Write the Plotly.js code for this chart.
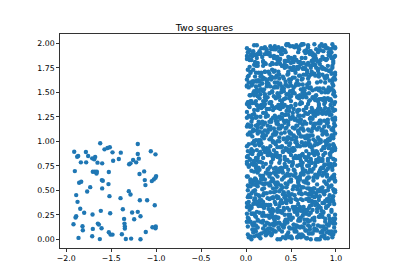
<!DOCTYPE html>
<html>
<head>
<meta charset="utf-8">
<script src="https://cdn.plot.ly/plotly-3.0.1.min.js"></script>
<style>html,body{margin:0;padding:0;background:#fff;}#chart{width:400px;height:280px;}</style>
</head>
<body>
<div id="chart"></div>
<script>
// Left square points (x in [-2,-1], y in [0,0.9])
const xLeft = [-1.911,-1.904,-1.889,-1.896,-1.889,-1.919,-1.874,-1.878,-1.867,-1.856,-1.833,-1.844,-1.837,-1.863,-1.819,-1.815,-1.800,-1.781,-1.778,-1.756,-1.733,-1.767,-1.711,-1.689,-1.678,-1.704,-1.681,-1.659,-1.704,-1.711,-1.707,-1.663,-1.652,-1.648,-1.637,-1.626,-1.622,-1.615,-1.607,-1.604,-1.593,-1.600,-1.600,-1.574,-1.541,-1.515,-1.485,-1.530,-1.526,-1.519,-1.478,-1.511,-1.526,-1.507,-1.485,-1.415,-1.393,-1.396,-1.381,-1.370,-1.352,-1.348,-1.348,-1.337,-1.356,-1.304,-1.285,-1.300,-1.285,-1.278,-1.267,-1.256,-1.244,-1.222,-1.204,-1.204,-1.204,-1.193,-1.185,-1.181,-1.174,-1.174,-1.133,-1.126,-1.119,-1.115,-1.100,-1.059,-1.048,-1.026,-1.007,-1.000,-1.007,-1.004,-1.007,-1.041,-1.015];
const yLeft = [0.894,0.696,0.451,0.222,0.235,0.154,0.382,0.843,0.850,0.577,0.587,0.311,0.785,0.014,0.133,0.092,0.270,0.891,0.785,0.850,0.532,0.488,0.826,0.816,0.840,0.689,0.689,0.689,0.106,0.031,0.253,0.672,0.782,0.160,0.150,0.002,0.980,0.290,0.113,0.604,0.597,0.519,0.775,0.918,0.932,0.939,0.887,0.563,0.686,0.440,0.802,0.266,0.072,0.048,0.048,0.819,0.884,0.420,0.051,0.307,0.160,0.130,0.109,0.003,0.208,0.491,0.457,0.765,0.775,0.007,0.273,0.809,0.205,0.785,0.973,0.870,0.280,0.823,0.666,0.399,0.235,0.001,0.693,0.604,0.553,0.075,0.399,0.898,0.594,0.611,0.628,0.645,0.867,0.130,0.113,0.123,0.348];

// Right square points, part A (x in [0,1], y in [0,2])
const xRightA = [
0.03,0.47,0.82,0.15,0.66,0.91,0.28,0.54,0.09,0.73,0.38,0.97,0.61,0.22,0.85,0.44,0.12,0.70,0.33,0.58,0.95,0.06,0.79,0.41,0.26,0.63,0.88,0.17,0.50,0.99,0.35,0.76,0.02,0.57,0.20,0.68,0.93,0.45,0.11,0.84,0.31,0.72,0.59,0.08,0.96,0.24,0.67,0.40,0.87,0.14,
0.56,0.13,0.89,0.34,0.71,0.05,0.62,0.27,0.94,0.48,0.19,0.80,0.37,0.65,0.01,0.52,0.86,0.23,0.75,0.42,0.10,0.98,0.30,0.69,0.55,0.16,0.83,0.46,0.07,0.78,0.36,0.60,0.92,0.25,0.49,0.04,0.71,0.18,0.87,0.53,0.32,0.64,0.97,0.21,0.43,0.76,0.09,0.58,0.90,0.29,
0.81,0.27,0.44,0.06,0.93,0.61,0.18,0.72,0.35,0.99,0.50,0.12,0.67,0.29,0.84,0.03,0.57,0.40,0.76,0.21,0.95,0.46,0.09,0.63,0.33,0.88,0.15,0.70,0.52,0.24,0.97,0.38,0.01,0.79,0.59,0.11,0.86,0.43,0.26,0.68,0.92,0.31,0.54,0.07,0.74,0.48,0.19,0.83,0.36,0.65,
0.12,0.58,0.91,0.37,0.04,0.75,0.46,0.23,0.87,0.64,0.30,0.97,0.08,0.53,0.71,0.19,0.42,0.85,0.27,0.66,0.01,0.94,0.35,0.79,0.50,0.14,0.61,0.89,0.40,0.22,0.73,0.06,0.56,0.98,0.32,0.68,0.17,0.83,0.45,0.10,0.77,0.29,0.60,0.93,0.48,0.03,0.81,0.38,0.70,0.25,
0.67,0.20,0.43,0.88,0.09,0.54,0.31,0.96,0.72,0.15,0.39,0.82,0.05,0.61,0.26,0.93,0.47,0.70,0.11,0.57,0.34,0.85,0.02,0.78,0.44,0.19,0.63,0.99,0.28,0.51,0.74,0.08,0.90,0.36,0.59,0.14,0.81,0.42,0.24,0.69,0.97,0.33,0.55,0.06,0.76,0.48,0.17,0.86,0.30,0.62,
0.39,0.84,0.07,0.62,0.25,0.97,0.50,0.13,0.76,0.33,0.91,0.58,0.02,0.45,0.69,0.18,0.87,0.30,0.54,0.79,0.10,0.66,0.41,0.95,0.22,0.73,0.48,0.05,0.83,0.36,0.60,0.15,0.92,0.27,0.71,0.44,0.99,0.20,0.57,0.09,0.80,0.35,0.64,0.12,0.89,0.52,0.28,0.75,0.03,0.46,
0.94,0.31,0.58,0.16,0.73,0.42,0.05,0.87,0.26,0.64,0.99,0.37,0.10,0.81,0.53,0.21,0.69,0.46,0.02,0.77,0.34,0.92,0.59,0.13,0.85,0.40,0.70,0.24,0.96,0.50,0.08,0.63,0.29,0.82,0.44,0.17,0.75,0.55,0.01,0.90,0.36,0.67,0.19,0.86,0.48,0.11,0.79,0.27,0.60,0.98,
0.22,0.75,0.48,0.03,0.89,0.60,0.14,0.37,0.96,0.51,0.28,0.83,0.09,0.66,0.43,0.18,0.92,0.71,0.33,0.57,0.06,0.80,0.25,0.98,0.45,0.63,0.12,0.87,0.39,0.70,0.01,0.54,0.31,0.94,0.19,0.77,0.47,0.08,0.85,0.62,0.35,0.16,0.91,0.52,0.27,0.73,0.40,0.99,0.11,0.68,
0.58,0.05,0.83,0.29,0.67,0.41,0.94,0.17,0.72,0.36,0.09,0.88,0.53,0.24,0.79,0.46,0.01,0.63,0.97,0.32,0.75,0.13,0.56,0.86,0.21,0.44,0.69,0.07,0.91,0.38,0.61,0.15,0.81,0.50,0.26,0.99,0.43,0.70,0.04,0.59,0.34,0.85,0.19,0.76,0.48,0.11,0.65,0.93,0.30,0.55,
0.35,0.90,0.12,0.64,0.47,0.81,0.23,0.98,0.06,0.57,0.74,0.30,0.86,0.41,0.15,0.69,0.52,0.95,0.27,0.03,0.78,0.62,0.38,0.84,0.10,0.49,0.92,0.20,0.71,0.33,0.55,0.08,0.87,0.44,0.66,0.17,0.99,0.25,0.60,0.79,0.02,0.45,0.73,0.31,0.89,0.14,0.53,0.97,0.40,0.68,
0.71,0.16,0.49,0.93,0.04,0.62,0.37,0.85,0.28,0.56,0.99,0.11,0.74,0.43,0.20,0.88,0.65,0.02,0.51,0.80,0.34,0.96,0.14,0.59,0.42,0.77,0.07,0.90,0.26,0.68,0.53,0.18,0.83,0.39,0.97,0.09,0.61,0.30,0.75,0.46,0.22,0.87,0.55,0.13,0.94,0.35,0.70,0.05,0.81,0.47,
0.08,0.63,0.32,0.87,0.21,0.54,0.97,0.40,0.15,0.76,0.48,0.02,0.69,0.91,0.27,0.58,0.36,0.82,0.11,0.45,0.73,0.19,0.95,0.60,0.05,0.84,0.38,0.67,0.24,0.52,0.89,0.13,0.79,0.43,0.01,0.70,0.31,0.98,0.56,0.17,0.86,0.47,0.25,0.65,0.92,0.09,0.74,0.34,0.57,0.81,
0.44,0.97,0.19,0.72,0.06,0.58,0.33,0.85,0.50,0.12,0.79,0.26,0.93,0.61,0.40,0.03,0.68,0.87,0.22,0.55,0.14,0.76,0.47,0.99,0.30,0.64,0.09,0.83,0.37,0.71,0.18,0.52,0.95,0.28,0.01,0.60,0.89,0.42,0.16,0.74,0.35,0.66,0.07,0.91,0.49,0.24,0.80,0.57,0.11,0.38,
0.86,0.29,0.53,0.10,0.75,0.41,0.98,0.64,0.17,0.36,0.90,0.05,0.57,0.81,0.23,0.69,0.46,0.13,0.94,0.32,0.62,0.01,0.78,0.50,0.26,0.87,0.15,0.59,0.39,0.96,0.07,0.72,0.45,0.20,0.83,0.55,0.34,0.99,0.12,0.67,0.27,0.80,0.48,0.03,0.92,0.60,0.18,0.74,0.43,0.88,
0.15,0.52,0.80,0.37,0.02,0.66,0.94,0.24,0.48,0.71,0.09,0.88,0.33,0.57,0.19,0.97,0.42,0.63,0.05,0.79,0.28,0.54,0.91,0.13,0.70,0.45,0.85,0.21,0.60,0.38,0.99,0.08,0.75,0.31,0.50,0.16,0.83,0.67,0.04,0.93,0.40,0.26,0.59,0.77,0.11,0.47,0.89,0.35,0.64,0.22,
0.61,0.07,0.39,0.92,0.25,0.74,0.50,0.14,0.86,0.33,0.68,0.98,0.20,0.56,0.03,0.81,0.45,0.29,0.95,0.11,0.63,0.37,0.77,0.18,0.53,0.90,0.06,0.42,0.71,0.27,0.84,0.58,0.12,0.96,0.35,0.65,0.01,0.49,0.79,0.23,0.88,0.44,0.16,0.70,0.31,0.97,0.55,0.09,0.82,0.40,
0.28,0.83,0.46,0.01,0.70,0.19,0.95,0.57,0.34,0.88,0.12,0.64,0.41,0.99,0.06,0.76,0.52,0.23,0.90,0.37,0.67,0.15,0.81,0.48,0.03,0.73,0.31,0.96,0.59,0.21,0.85,0.44,0.10,0.62,0.79,0.26,0.54,0.93,0.17,0.69,0.36,0.08,0.87,0.50,0.32,0.75,0.98,0.14,0.60,0.42,
0.93,0.40,0.17,0.65,0.82,0.05,0.53,0.29,0.77,0.96,0.11,0.45,0.68,0.22,0.87,0.36,0.59,0.02,0.74,0.49,0.14,0.91,0.32,0.61,0.85,0.25,0.57,0.08,0.70,0.43,0.99,0.19,0.80,0.34,0.63,0.47,0.04,0.89,0.27,0.72,0.55,0.13,0.94,0.38,0.66,0.21,0.84,0.51,0.09,0.78,
0.50,0.13,0.76,0.35,0.98,0.60,0.24,0.87,0.44,0.07,0.69,0.31,0.92,0.56,0.18,0.81,0.40,0.03,0.73,0.27,0.64,0.95,0.10,0.52,0.85,0.37,0.16,0.78,0.47,0.99,0.21,0.66,0.05,0.89,0.33,0.58,0.12,0.75,0.43,0.94,0.29,0.62,0.08,0.83,0.54,0.19,0.71,0.38,0.97,0.01,
0.04,0.69,0.26,0.91,0.47,0.15,0.82,0.58,0.33,0.97,0.09,0.74,0.41,0.63,0.20,0.86,0.52,0.02,0.78,0.36,0.94,0.12,0.67,0.45,0.89,0.23,0.56,0.80,0.31,0.99,0.07,0.61,0.39,0.84,0.17,0.71,0.49,0.95,0.28,0.54,0.14,0.88,0.43,0.76,0.01,0.65,0.32,0.92,0.59,0.21
];
const yRightA = [
0.02,0.07,0.00,0.05,0.09,0.01,0.04,0.08,0.03,0.06,0.00,0.05,0.02,0.09,0.07,0.01,0.04,0.06,0.08,0.03,0.05,0.00,0.09,0.02,0.07,0.04,0.01,0.06,0.03,0.08,0.00,0.09,0.05,0.02,0.07,0.01,0.06,0.04,0.08,0.03,0.09,0.00,0.05,0.07,0.02,0.06,0.01,0.08,0.04,0.03,
0.14,0.19,0.11,0.16,0.10,0.18,0.13,0.15,0.17,0.12,0.19,0.14,0.10,0.16,0.18,0.11,0.13,0.17,0.15,0.12,0.10,0.19,0.16,0.14,0.11,0.18,0.13,0.17,0.15,0.10,0.12,0.19,0.14,0.16,0.11,0.18,0.13,0.17,0.10,0.15,0.19,0.12,0.16,0.14,0.18,0.11,0.17,0.13,0.15,0.10,
0.23,0.28,0.20,0.26,0.21,0.29,0.24,0.27,0.22,0.25,0.20,0.28,0.26,0.23,0.29,0.21,0.25,0.27,0.22,0.24,0.28,0.20,0.26,0.29,0.23,0.21,0.27,0.25,0.22,0.24,0.20,0.29,0.26,0.28,0.21,0.23,0.27,0.25,0.22,0.20,0.24,0.29,0.28,0.26,0.21,0.23,0.27,0.25,0.22,0.20,
0.36,0.31,0.39,0.34,0.30,0.38,0.32,0.35,0.37,0.33,0.30,0.39,0.36,0.31,0.34,0.38,0.32,0.37,0.35,0.30,0.33,0.39,0.31,0.36,0.38,0.34,0.30,0.32,0.37,0.35,0.39,0.33,0.31,0.36,0.38,0.30,0.34,0.32,0.37,0.39,0.35,0.31,0.33,0.36,0.30,0.38,0.34,0.37,0.32,0.35,
0.41,0.47,0.43,0.49,0.40,0.45,0.48,0.42,0.46,0.44,0.40,0.49,0.43,0.47,0.41,0.45,0.48,0.42,0.46,0.40,0.44,0.49,0.43,0.47,0.41,0.45,0.40,0.48,0.42,0.46,0.44,0.49,0.41,0.43,0.47,0.45,0.40,0.48,0.42,0.46,0.44,0.49,0.41,0.47,0.43,0.45,0.40,0.48,0.42,0.46,
0.55,0.50,0.58,0.53,0.57,0.51,0.59,0.54,0.52,0.56,0.50,0.58,0.55,0.53,0.57,0.51,0.59,0.52,0.54,0.56,0.50,0.58,0.53,0.55,0.57,0.51,0.59,0.54,0.52,0.56,0.50,0.58,0.53,0.55,0.51,0.57,0.59,0.52,0.54,0.56,0.50,0.58,0.53,0.55,0.57,0.51,0.59,0.52,0.54,0.56,
0.62,0.68,0.60,0.65,0.69,0.63,0.61,0.67,0.64,0.66,0.60,0.69,0.62,0.68,0.65,0.61,0.63,0.67,0.64,0.66,0.69,0.60,0.62,0.68,0.65,0.61,0.63,0.67,0.64,0.66,0.60,0.69,0.62,0.68,0.65,0.61,0.63,0.67,0.64,0.66,0.69,0.60,0.62,0.68,0.65,0.61,0.63,0.67,0.64,0.66,
0.77,0.72,0.79,0.74,0.70,0.76,0.73,0.78,0.71,0.75,0.79,0.72,0.77,0.70,0.74,0.78,0.76,0.71,0.73,0.75,0.70,0.79,0.72,0.77,0.74,0.78,0.71,0.76,0.73,0.75,0.79,0.70,0.72,0.77,0.74,0.78,0.71,0.76,0.73,0.75,0.70,0.79,0.72,0.77,0.74,0.78,0.71,0.76,0.73,0.75,
0.83,0.88,0.80,0.86,0.81,0.89,0.84,0.87,0.82,0.85,0.80,0.88,0.83,0.86,0.89,0.81,0.84,0.87,0.82,0.85,0.88,0.80,0.83,0.86,0.89,0.81,0.84,0.87,0.82,0.85,0.80,0.88,0.83,0.86,0.89,0.81,0.84,0.87,0.82,0.85,0.88,0.80,0.83,0.86,0.89,0.81,0.84,0.87,0.82,0.85,
0.94,0.99,0.91,0.96,0.90,0.98,0.93,0.95,0.92,0.97,0.91,0.99,0.94,0.90,0.96,0.98,0.93,0.92,0.95,0.97,0.90,0.99,0.94,0.91,0.96,0.98,0.93,0.92,0.95,0.97,0.99,0.90,0.94,0.91,0.96,0.98,0.93,0.92,0.95,0.97,0.90,0.99,0.94,0.91,0.96,0.98,0.93,0.92,0.95,0.97,
1.06,1.01,1.08,1.03,1.09,1.05,1.00,1.07,1.02,1.04,1.08,1.01,1.06,1.09,1.03,1.00,1.05,1.07,1.02,1.04,1.09,1.06,1.01,1.08,1.03,1.00,1.05,1.07,1.02,1.04,1.06,1.09,1.01,1.08,1.03,1.00,1.05,1.07,1.02,1.04,1.06,1.09,1.01,1.08,1.03,1.00,1.05,1.07,1.02,1.04,
1.12,1.17,1.10,1.15,1.19,1.13,1.11,1.16,1.18,1.14,1.10,1.17,1.12,1.19,1.15,1.11,1.13,1.18,1.16,1.14,1.10,1.17,1.12,1.19,1.15,1.11,1.13,1.18,1.16,1.14,1.10,1.17,1.12,1.19,1.15,1.11,1.13,1.18,1.16,1.14,1.10,1.17,1.12,1.19,1.15,1.11,1.13,1.18,1.16,1.14,
1.27,1.22,1.29,1.24,1.20,1.26,1.21,1.28,1.23,1.25,1.29,1.20,1.27,1.22,1.24,1.26,1.28,1.21,1.25,1.23,1.20,1.29,1.27,1.22,1.24,1.26,1.28,1.21,1.25,1.23,1.20,1.29,1.27,1.22,1.24,1.26,1.28,1.21,1.25,1.23,1.20,1.29,1.27,1.22,1.24,1.26,1.28,1.21,1.25,1.23,
1.31,1.36,1.33,1.39,1.30,1.35,1.38,1.32,1.37,1.34,1.30,1.39,1.31,1.36,1.33,1.38,1.35,1.32,1.37,1.34,1.39,1.30,1.31,1.36,1.33,1.38,1.35,1.32,1.37,1.34,1.39,1.30,1.31,1.36,1.33,1.38,1.35,1.32,1.37,1.34,1.39,1.30,1.31,1.36,1.33,1.38,1.35,1.32,1.37,1.34,
1.44,1.49,1.41,1.46,1.40,1.48,1.43,1.45,1.47,1.42,1.49,1.40,1.44,1.46,1.41,1.48,1.43,1.45,1.47,1.42,1.40,1.49,1.44,1.46,1.41,1.48,1.43,1.45,1.47,1.42,1.40,1.49,1.44,1.46,1.41,1.48,1.43,1.45,1.47,1.42,1.40,1.49,1.44,1.46,1.41,1.48,1.43,1.45,1.47,1.42,
1.53,1.58,1.50,1.55,1.59,1.52,1.57,1.51,1.54,1.56,1.58,1.50,1.53,1.59,1.55,1.52,1.57,1.51,1.54,1.56,1.50,1.58,1.53,1.59,1.55,1.52,1.57,1.51,1.54,1.56,1.50,1.58,1.53,1.59,1.55,1.52,1.57,1.51,1.54,1.56,1.50,1.58,1.53,1.59,1.55,1.52,1.57,1.51,1.54,1.56,
1.66,1.61,1.68,1.63,1.60,1.65,1.69,1.62,1.67,1.64,1.61,1.68,1.66,1.63,1.60,1.69,1.65,1.62,1.67,1.64,1.68,1.61,1.66,1.63,1.60,1.69,1.65,1.62,1.67,1.64,1.68,1.61,1.66,1.63,1.60,1.69,1.65,1.62,1.67,1.64,1.68,1.61,1.66,1.63,1.60,1.69,1.65,1.62,1.67,1.64,
1.72,1.77,1.70,1.74,1.79,1.71,1.76,1.73,1.78,1.75,1.70,1.77,1.72,1.79,1.74,1.71,1.76,1.73,1.78,1.75,1.70,1.77,1.72,1.79,1.74,1.71,1.76,1.73,1.78,1.75,1.70,1.77,1.72,1.79,1.74,1.71,1.76,1.73,1.78,1.75,1.70,1.77,1.72,1.79,1.74,1.71,1.76,1.73,1.78,1.75,
1.85,1.80,1.88,1.83,1.86,1.81,1.89,1.84,1.82,1.87,1.80,1.85,1.88,1.83,1.86,1.81,1.89,1.84,1.82,1.87,1.80,1.85,1.88,1.83,1.86,1.81,1.89,1.84,1.82,1.87,1.80,1.85,1.88,1.83,1.86,1.81,1.89,1.84,1.82,1.87,1.80,1.85,1.88,1.83,1.86,1.81,1.89,1.84,1.82,1.87,
1.93,1.98,1.90,1.95,1.99,1.92,1.97,1.91,1.94,1.96,1.98,1.90,1.93,1.99,1.95,1.92,1.97,1.91,1.94,1.96,1.90,1.98,1.93,1.99,1.95,1.92,1.97,1.91,1.94,1.96,1.90,1.98,1.93,1.99,1.95,1.92,1.97,1.91,1.94,1.96,1.90,1.98,1.93,1.99,1.95,1.92,1.97,1.91,1.94,1.96
];

// Right square points, part B
const xRightB = [
0.19,0.64,0.37,0.92,0.08,0.51,0.76,0.29,0.98,0.43,0.14,0.69,0.85,0.02,0.57,0.33,0.90,0.24,0.71,0.46,0.11,0.80,0.60,0.36,0.95,0.05,0.53,0.27,0.74,0.88,0.16,0.41,0.67,0.99,0.22,0.58,0.83,0.07,0.48,0.31,0.93,0.62,0.13,0.78,0.39,0.56,0.01,0.86,0.25,0.70,
0.52,0.08,0.77,0.31,0.95,0.17,0.63,0.40,0.86,0.02,0.70,0.25,0.49,0.91,0.13,0.58,0.36,0.82,0.06,0.67,0.44,0.99,0.21,0.74,0.29,0.55,0.10,0.88,0.38,0.61,0.15,0.79,0.47,0.93,0.04,0.68,0.33,0.85,0.20,0.57,0.97,0.12,0.42,0.73,0.27,0.64,0.89,0.01,0.50,0.35,
0.87,0.34,0.61,0.05,0.73,0.48,0.20,0.96,0.39,0.66,0.12,0.81,0.53,0.27,0.92,0.07,0.44,0.70,0.15,0.59,0.98,0.32,0.78,0.02,0.50,0.85,0.23,0.64,0.41,0.10,0.90,0.57,0.30,0.75,0.18,0.47,0.94,0.03,0.68,0.37,0.82,0.13,0.55,0.26,0.71,0.99,0.43,0.09,0.62,0.35,
0.24,0.79,0.06,0.58,0.41,0.93,0.17,0.70,0.33,0.86,0.50,0.11,0.65,0.98,0.28,0.45,0.82,0.03,0.61,0.37,0.75,0.14,0.90,0.53,0.22,0.68,0.01,0.47,0.84,0.30,0.96,0.09,0.56,0.73,0.19,0.40,0.88,0.26,0.63,0.05,0.77,0.35,0.52,0.97,0.15,0.69,0.43,0.81,0.12,0.60,
0.46,0.02,0.71,0.38,0.94,0.19,0.60,0.83,0.27,0.52,0.09,0.76,0.35,0.99,0.14,0.66,0.43,0.87,0.23,0.57,0.05,0.80,0.31,0.69,0.96,0.11,0.48,0.74,0.20,0.91,0.39,0.62,0.07,0.85,0.54,0.29,0.97,0.16,0.44,0.78,0.01,0.59,0.33,0.89,0.25,0.67,0.13,0.93,0.50,0.72,
0.63,0.18,0.90,0.42,0.07,0.75,0.31,0.56,0.97,0.24,0.81,0.49,0.12,0.68,0.36,0.93,0.04,0.59,0.85,0.28,0.72,0.15,0.46,0.99,0.33,0.61,0.09,0.78,0.53,0.21,0.88,0.40,0.66,0.02,0.95,0.27,0.70,0.13,0.50,0.83,0.37,0.58,0.06,0.91,0.44,0.19,0.76,0.30,0.64,0.97,
0.11,0.55,0.82,0.30,0.69,0.04,0.47,0.93,0.21,0.77,0.38,0.60,0.15,0.88,0.52,0.26,0.97,0.07,0.73,0.43,0.65,0.19,0.84,0.34,0.58,0.01,0.90,0.49,0.24,0.71,0.96,0.13,0.40,0.80,0.28,0.62,0.05,0.86,0.54,0.17,0.75,0.36,0.99,0.22,0.67,0.45,0.09,0.81,0.32,0.57,
0.78,0.32,0.06,0.59,0.91,0.44,0.17,0.70,0.25,0.86,0.52,0.99,0.38,0.03,0.64,0.21,0.81,0.47,0.13,0.74,0.56,0.95,0.29,0.68,0.09,0.40,0.87,0.15,0.61,0.35,0.93,0.50,0.23,0.77,0.01,0.66,0.42,0.84,0.19,0.57,0.97,0.27,0.72,0.11,0.48,0.89,0.36,0.63,0.05,0.80,
0.37,0.85,0.14,0.61,0.02,0.73,0.49,0.96,0.26,0.55,0.81,0.09,0.67,0.33,0.92,0.18,0.45,0.77,0.05,0.58,0.88,0.30,0.70,0.12,0.52,0.99,0.40,0.63,0.21,0.84,0.07,0.47,0.75,0.28,0.94,0.16,0.59,0.35,0.80,0.03,0.68,0.43,0.90,0.23,0.54,0.11,0.72,0.97,0.31,0.64,
0.90,0.27,0.53,0.08,0.74,0.40,0.97,0.16,0.62,0.35,0.83,0.04,0.58,0.21,0.79,0.45,0.12,0.68,0.94,0.31,0.50,0.86,0.01,0.72,0.39,0.64,0.19,0.99,0.47,0.26,0.81,0.10,0.56,0.33,0.92,0.69,0.06,0.44,0.77,0.23,0.60,0.88,0.14,0.51,0.37,0.96,0.03,0.75,0.29,0.66
];
const yRightB = [
0.11,0.03,0.17,0.08,0.14,0.01,0.19,0.06,0.12,0.15,0.04,0.18,0.09,0.13,0.02,0.16,0.07,0.10,0.19,0.05,0.14,0.00,0.12,0.17,0.08,0.03,0.15,0.11,0.06,0.18,0.01,0.13,0.09,0.16,0.04,0.19,0.07,0.10,0.02,0.14,0.17,0.05,0.12,0.00,0.15,0.08,0.18,0.03,0.11,0.06,
0.33,0.26,0.38,0.21,0.30,0.35,0.24,0.37,0.28,0.22,0.39,0.31,0.25,0.34,0.20,0.36,0.29,0.23,0.32,0.27,0.38,0.21,0.35,0.30,0.26,0.33,0.24,0.39,0.28,0.22,0.37,0.31,0.25,0.20,0.34,0.29,0.36,0.23,0.32,0.27,0.21,0.38,0.30,0.35,0.24,0.26,0.33,0.37,0.22,0.28,
0.46,0.53,0.41,0.58,0.49,0.44,0.56,0.40,0.51,0.47,0.59,0.43,0.54,0.48,0.42,0.57,0.45,0.52,0.40,0.55,0.49,0.58,0.44,0.50,0.41,0.53,0.47,0.59,0.46,0.42,0.56,0.51,0.43,0.48,0.57,0.40,0.54,0.45,0.52,0.49,0.44,0.58,0.41,0.55,0.47,0.50,0.43,0.56,0.53,0.42,
0.71,0.64,0.77,0.60,0.68,0.74,0.62,0.79,0.66,0.73,0.61,0.76,0.69,0.63,0.78,0.65,0.70,0.75,0.67,0.72,0.60,0.79,0.64,0.71,0.68,0.62,0.77,0.66,0.73,0.61,0.74,0.69,0.63,0.78,0.65,0.70,0.76,0.67,0.72,0.60,0.75,0.64,0.79,0.62,0.71,0.68,0.77,0.66,0.73,0.61,
0.92,0.85,0.97,0.81,0.88,0.94,0.83,0.99,0.87,0.90,0.80,0.96,0.84,0.91,0.86,0.98,0.82,0.93,0.89,0.95,0.81,0.87,0.99,0.84,0.90,0.83,0.96,0.88,0.92,0.80,0.94,0.86,0.98,0.82,0.91,0.85,0.97,0.89,0.93,0.81,0.95,0.84,0.88,0.99,0.86,0.90,0.83,0.96,0.92,0.80,
1.13,1.05,1.18,1.02,1.10,1.16,1.07,1.00,1.14,1.09,1.19,1.03,1.11,1.06,1.17,1.01,1.15,1.08,1.12,1.04,1.19,1.10,1.02,1.16,1.07,1.13,1.00,1.18,1.05,1.11,1.09,1.15,1.03,1.17,1.06,1.12,1.01,1.14,1.08,1.19,1.04,1.10,1.16,1.02,1.13,1.07,1.18,1.00,1.11,1.05,
1.24,1.37,1.21,1.32,1.28,1.35,1.20,1.30,1.38,1.26,1.33,1.22,1.36,1.29,1.25,1.39,1.31,1.23,1.34,1.27,1.20,1.37,1.29,1.24,1.32,1.38,1.21,1.35,1.26,1.30,1.23,1.36,1.28,1.33,1.20,1.39,1.25,1.31,1.22,1.34,1.27,1.37,1.24,1.29,1.35,1.21,1.32,1.38,1.26,1.30,
1.47,1.55,1.41,1.58,1.50,1.44,1.53,1.49,1.57,1.42,1.52,1.46,1.59,1.40,1.54,1.48,1.43,1.56,1.51,1.45,1.58,1.41,1.50,1.55,1.47,1.53,1.44,1.57,1.40,1.49,1.52,1.46,1.59,1.42,1.56,1.48,1.54,1.43,1.51,1.45,1.57,1.40,1.55,1.49,1.44,1.52,1.47,1.58,1.41,1.53,
1.68,1.75,1.62,1.79,1.66,1.71,1.60,1.77,1.64,1.73,1.69,1.61,1.78,1.65,1.72,1.63,1.76,1.67,1.70,1.74,1.60,1.79,1.66,1.62,1.73,1.68,1.77,1.64,1.71,1.75,1.61,1.69,1.78,1.63,1.72,1.66,1.76,1.60,1.74,1.67,1.70,1.79,1.65,1.62,1.73,1.77,1.68,1.64,1.71,1.75,
1.84,1.97,1.81,1.92,1.88,1.95,1.80,1.90,1.99,1.86,1.93,1.83,1.96,1.89,1.82,1.98,1.85,1.91,1.94,1.87,1.80,1.97,1.84,1.92,1.89,1.99,1.82,1.95,1.86,1.90,1.93,1.81,1.98,1.85,1.88,1.96,1.83,1.91,1.87,1.94,1.80,1.97,1.89,1.84,1.92,1.99,1.86,1.82,1.95,1.90
];

const xTickVals = [-2.0,-1.5,-1.0,-0.5,0.0,0.5,1.0];
const xTickText = ['\u22122.0','\u22121.5','\u22121.0','\u22120.5','0.0','0.5','1.0'];
const yTickVals = [0,0.25,0.5,0.75,1.0,1.25,1.5,1.75,2.0];
const yTickText = ['0.00','0.25','0.50','0.75','1.00','1.25','1.50','1.75','2.00'];
const titleText = 'Two squares';

const color = '#1f77b4';
const nA = Math.min(xRightA.length, yRightA.length);
const nB = Math.min(xRightB.length, yRightB.length);
const trace = {
  x: xLeft.concat(xRightA.slice(0, nA), xRightB.slice(0, nB)),
  y: yLeft.concat(yRightA.slice(0, nA), yRightB.slice(0, nB)),
  type: 'scatter',
  mode: 'markers',
  marker: {color: color, size: 4.4, line: {width: 0}},
  hoverinfo: 'skip'
};

const axisCommon = {
  showgrid: false, zeroline: false,
  showline: true, mirror: true, linecolor: '#000', linewidth: 0.8,
  ticks: 'outside', ticklen: 3, tickwidth: 0.8, tickcolor: '#000',
  tickfont: {family: 'DejaVu Sans', size: 7.8, color: '#000'},
  tickmode: 'array'
};

const layout = {
  width: 400, height: 280,
  margin: {l: 60, r: 51, t: 34, b: 32, pad: 0},
  paper_bgcolor: '#fff', plot_bgcolor: '#fff',
  showlegend: false,
  title: {text: titleText, font: {family: 'DejaVu Sans', size: 9.4, color: '#000'},
          x: 0.5, xref: 'paper', xanchor: 'center', y: 1 - 31/280, yref: 'container', yanchor: 'bottom'},
  xaxis: Object.assign({}, axisCommon, {range: [-2.069, 1.145], tickvals: xTickVals, ticktext: xTickText}),
  yaxis: Object.assign({}, axisCommon, {range: [-0.089, 2.095], tickvals: yTickVals, ticktext: yTickText})
};

Plotly.newPlot('chart', [trace], layout, {displayModeBar: false, staticPlot: true});
</script>
</body>
</html>
